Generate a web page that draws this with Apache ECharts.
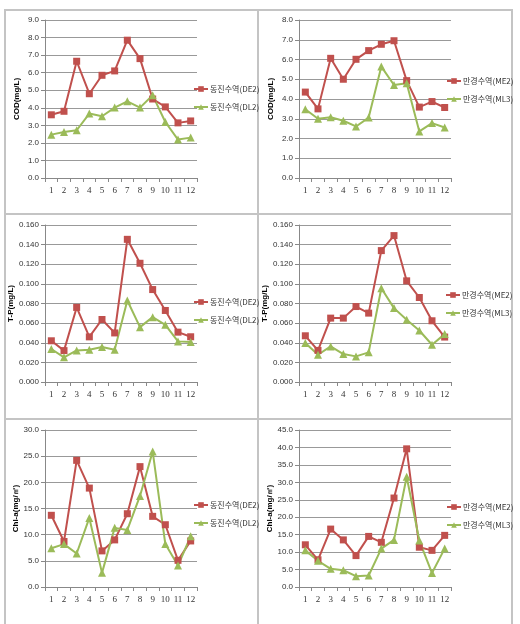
<!DOCTYPE html>
<html>
<head>
<meta charset="utf-8">
<script src="https://cdn.jsdelivr.net/npm/echarts@6/dist/echarts.min.js"></script>
<style>
html,body{margin:0;padding:0;background:#fff;}
#c{width:520px;height:624px;}
</style>
</head>
<body>
<div id="c"></div>
<script>
const months = ['1','2','3','4','5','6','7','8','9','10','11','12'];

const nameDE2 = '동진수역(DE2)';
const nameDL2 = '동진수역(DL2)';
const nameME2 = '만경수역(ME2)';
const nameML3 = '만경수역(ML3)';

const codDE2 = [3.6, 3.8, 6.65, 4.8, 5.85, 6.1, 7.85, 6.8, 4.5, 4.05, 3.14, 3.25];
const codDL2 = [2.47, 2.62, 2.72, 3.67, 3.52, 4.01, 4.37, 4.01, 4.71, 3.19, 2.19, 2.3];
const codME2 = [4.35, 3.5, 6.06, 5.0, 6.01, 6.45, 6.77, 6.95, 4.93, 3.59, 3.87, 3.57];
const codML3 = [3.48, 3.0, 3.08, 2.9, 2.61, 3.06, 5.64, 4.71, 4.8, 2.36, 2.78, 2.56];

const tpDE2 = [0.042, 0.032, 0.076, 0.046, 0.0637, 0.050, 0.1454, 0.121, 0.0942, 0.0729, 0.0508, 0.0461];
const tpDL2 = [0.0336, 0.0251, 0.0322, 0.0329, 0.0356, 0.0329, 0.0831, 0.0559, 0.0661, 0.0583, 0.0414, 0.0407];
const tpME2 = [0.0471, 0.0322, 0.0651, 0.0651, 0.0769, 0.0702, 0.1339, 0.1492, 0.1031, 0.0861, 0.0624, 0.0458];
const tpML3 = [0.0397, 0.0278, 0.0363, 0.0285, 0.0261, 0.0302, 0.0956, 0.0753, 0.0634, 0.0525, 0.038, 0.0488];

const chlDE2 = [13.7, 8.7, 24.2, 18.9, 6.9, 9.0, 14.0, 23.0, 13.5, 11.9, 5.1, 8.8];
const chlDL2 = [7.4, 8.2, 6.4, 13.2, 2.7, 11.3, 10.9, 17.4, 25.9, 8.2, 4.1, 9.7];
const chlME2 = [12.1, 7.8, 16.6, 13.5, 9.0, 14.5, 12.8, 25.5, 39.6, 11.4, 10.5, 14.8];
const chlML3 = [10.5, 7.5, 5.2, 4.8, 3.1, 3.3, 11.0, 13.5, 31.6, 13.3, 4.0, 11.0];

const yNames = ['COD(mg/L)', 'COD(mg/L)', 'T-P(mg/L)', 'T-P(mg/L)', 'Chl-a(mg/㎥)', 'Chl-a(mg/㎥)'];
const yMax = [9, 8, 0.16, 0.16, 30, 45];
const yStep = [1, 1, 0.02, 0.02, 5, 5];
const yDigits = [1, 1, 3, 3, 1, 1];

const panelSeries = [
  [[nameDE2, codDE2], [nameDL2, codDL2]],
  [[nameME2, codME2], [nameML3, codML3]],
  [[nameDE2, tpDE2], [nameDL2, tpDL2]],
  [[nameME2, tpME2], [nameML3, tpML3]],
  [[nameDE2, chlDE2], [nameDL2, chlDL2]],
  [[nameME2, chlME2], [nameML3, chlML3]]
];

const RED = '#C0504D', GREEN = '#9BBB59';
const gridPos = [
  {left: 45, top: 20, width: 152, height: 158},
  {left: 299, top: 20, width: 152, height: 158},
  {left: 45, top: 225, width: 152, height: 157},
  {left: 299, top: 225, width: 152, height: 157},
  {left: 45, top: 430, width: 152, height: 157},
  {left: 299, top: 430, width: 152, height: 157}
];
const legendPos = [
  {left: 193, top: 85},
  {left: 446, top: 77},
  {left: 193, top: 298},
  {left: 445, top: 291},
  {left: 193, top: 501},
  {left: 446, top: 503}
];

const grid = [], xAxis = [], yAxis = [], series = [], legend = [];
for (let i = 0; i < 6; i++) {
  grid.push(Object.assign({containLabel: false}, gridPos[i]));
  xAxis.push({
    type: 'category', gridIndex: i, data: months, boundaryGap: true,
    axisLine: {lineStyle: {color: '#888', width: 1}},
    axisTick: {show: true, length: 4, lineStyle: {color: '#888'}},
    axisLabel: {fontSize: 9, color: '#333', fontFamily: 'Liberation Serif', margin: 8, interval: 0},
    splitLine: {show: false}
  });
  const d = yDigits[i];
  yAxis.push({
    type: 'value', gridIndex: i, min: 0, max: yMax[i], interval: yStep[i],
    name: yNames[i], nameLocation: 'middle', nameGap: 24, nameRotate: 90,
    nameTextStyle: {fontSize: 8, fontWeight: 'bold', color: '#000', fontFamily: 'Liberation Sans'},
    axisLine: {show: true, lineStyle: {color: '#888'}},
    axisTick: {show: true, length: 4, lineStyle: {color: '#888'}},
    axisLabel: {fontSize: 8, color: '#333', fontFamily: 'Liberation Sans', margin: 6,
      formatter: v => v.toFixed(d)},
    splitLine: {show: true, lineStyle: {color: '#999', width: 1}}
  });
  const ps = panelSeries[i];
  ps.forEach((s, k) => {
    series.push({
      type: 'line', name: s[0], data: s[1], xAxisIndex: i, yAxisIndex: i,
      symbol: k === 0 ? 'rect' : 'triangle', symbolSize: k === 0 ? 7 : 8,
      showAllSymbol: true,
      lineStyle: {color: k === 0 ? RED : GREEN, width: 2},
      itemStyle: {color: k === 0 ? RED : GREEN},
      animation: false
    });
  });
  legend.push(Object.assign({
    orient: 'vertical', itemWidth: 14, itemHeight: 7, itemGap: 10,
    data: [ps[0][0], ps[1][0]], selectedMode: false,
    textStyle: {fontSize: 8, color: '#333', fontFamily: 'Noto Sans CJK KR', padding: [0,0,0,-3]},
    padding: 0
  }, legendPos[i]));
}

const borderColor = '#c4c4c4';
const graphic = [
  {type: 'rect', shape: {x: 5, y: 10, width: 507, height: 700}, style: {fill: 'none', stroke: borderColor, lineWidth: 2}, z: -1},
  {type: 'line', shape: {x1: 258, y1: 10, x2: 258, y2: 700}, style: {stroke: borderColor, lineWidth: 2}, z: -1},
  {type: 'line', shape: {x1: 5, y1: 214, x2: 512, y2: 214}, style: {stroke: borderColor, lineWidth: 2}, z: -1},
  {type: 'line', shape: {x1: 5, y1: 419, x2: 512, y2: 419}, style: {stroke: borderColor, lineWidth: 2}, z: -1}
];

const chart = echarts.init(document.getElementById('c'), null, {renderer: 'canvas'});
chart.setOption({
  backgroundColor: '#fff',
  animation: false,
  grid, xAxis, yAxis, series, legend, graphic
});
</script>
</body>
</html>
